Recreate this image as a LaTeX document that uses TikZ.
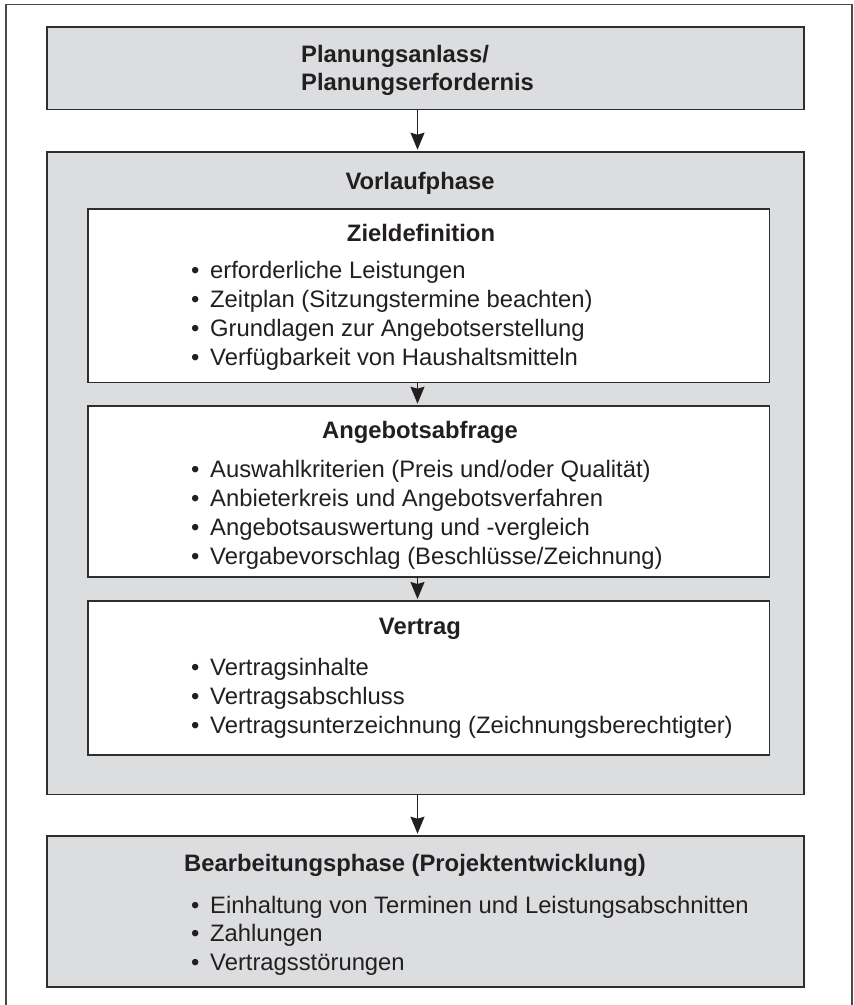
\documentclass[tikz,border=0pt]{standalone}
\usepackage{fontspec}
\setmainfont{Liberation Sans}
\usetikzlibrary{arrows.meta}
\definecolor{boxgray}{HTML}{DCDDDF}
\definecolor{ink}{HTML}{231F20}
\definecolor{edge}{HTML}{2E2E2E}
\definecolor{framecol}{HTML}{4A4A4A}
\newcommand\itembullet{\makebox[19pt][l]{\textbullet}}
\begin{document}
\begin{tikzpicture}[x=1pt,y=-1pt,
  panel/.style={draw=edge, line width=1.6pt, anchor=north west, inner sep=0pt, outer sep=0pt},
  graypanel/.style={panel, fill=boxgray},
  whitepanel/.style={panel, fill=white},
  head/.style={font=\fontsize{23.8}{28}\selectfont\bfseries, text=ink, inner sep=0pt, anchor=base},
  headw/.style={head, anchor=base west},
  item/.style={font=\fontsize{23.8}{28}\selectfont, text=ink, inner sep=0pt, anchor=base west},
  arr/.style={draw=ink, line width=1.5pt, shorten >=2pt, -{Stealth[length=17pt,width=14pt,inset=2pt]}}
]
\useasboundingbox (0,0) rectangle (854,1005);
% outer frame (open at the bottom edge of the picture)
\draw[draw=framecol, line width=1.3pt] (6,1008) -- (6,4.5) -- (852,4.5) -- (852,1008);

% boxes
\node[graypanel, minimum width=757pt, minimum height=82.5pt] (top) at (47,27) {};
\node[graypanel, minimum width=757pt, minimum height=642.6pt] (vor) at (47,151.7) {};
\node[whitepanel, minimum width=681.5pt, minimum height=173.3pt] (zd) at (88,209) {};
\node[whitepanel, minimum width=681.5pt, minimum height=171pt] (an) at (88,405.7) {};
\node[whitepanel, minimum width=681.5pt, minimum height=154pt] (ve) at (88,601) {};
\node[graypanel, minimum width=757pt, minimum height=151pt] (be) at (47,835.7) {};

% headings
\node[headw] (h1a) at (301,62) {Planungsanlass/};
\node[headw] (h1b) at (301,90) {Planungserfordernis};
\node[head] (hv) at (420,189) {Vorlaufphase};
\node[head] (hz) at (421,241.5) {Zieldefinition};
\node[head] (ha) at (420,438) {Angebotsabfrage};
\node[head] (hve) at (420,634) {Vertrag};
\node[headw] (hb) at (184,871.5) {Bearbeitungsphase (Projektentwicklung)};

% Zieldefinition items
\node[item] (z1) at (191,278) {\itembullet erforderliche Leistungen};
\node[item] (z2) at (191,307) {\itembullet Zeitplan (Sitzungstermine beachten)};
\node[item] (z3) at (191,336) {\itembullet Grundlagen zur Angebotserstellung};
\node[item] (z4) at (191,365) {\itembullet Verfügbarkeit von Haushaltsmitteln};

% Angebotsabfrage items
\node[item] (a1) at (191,477) {\itembullet Auswahlkriterien (Preis und/oder Qualität)};
\node[item] (a2) at (191,506) {\itembullet Anbieterkreis und Angebotsverfahren};
\node[item] (a3) at (191,535) {\itembullet Angebotsauswertung und -vergleich};
\node[item] (a4) at (191,564) {\itembullet Vergabevorschlag (Beschlüsse/Zeichnung)};

% Vertrag items
\node[item] (v1) at (191,675) {\itembullet Vertragsinhalte};
\node[item] (v2) at (191,704) {\itembullet Vertragsabschluss};
\node[item] (v3) at (191,733) {\itembullet Vertragsunterzeichnung (Zeichnungsberechtigter)};

% Bearbeitungsphase items
\node[item] (b1) at (191,913) {\itembullet Einhaltung von Terminen und Leistungsabschnitten};
\node[item] (b2) at (191,941) {\itembullet Zahlungen};
\node[item] (b3) at (191,970) {\itembullet Vertragsstörungen};

% arrows
\coordinate (ax) at (417.5,0);
\draw[arr] (top.south -| ax) -- (vor.north -| ax);
\draw[arr] (zd.south -| ax) -- (an.north -| ax);
\draw[arr] (an.south -| ax) -- (ve.north -| ax);
\draw[arr] (vor.south -| ax) -- (be.north -| ax);
\end{tikzpicture}
\end{document}
